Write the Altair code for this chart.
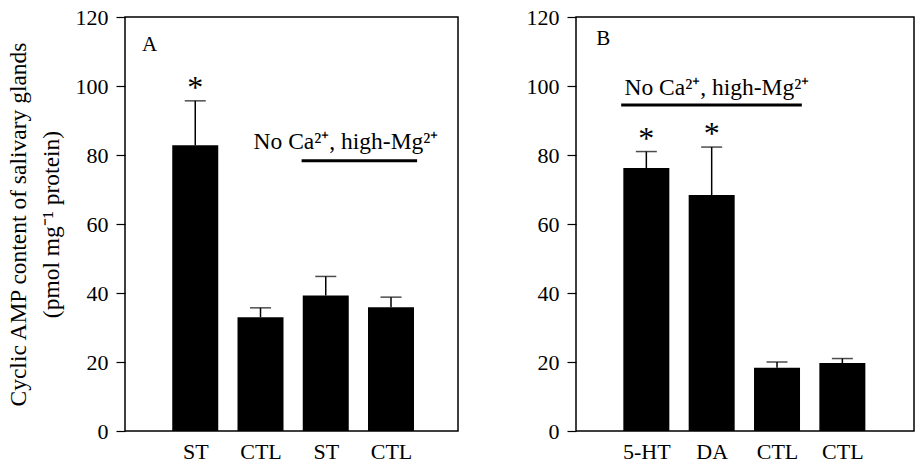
import altair as alt
import pandas as pd

FONT = "Liberation Serif"

positions = [1, 2, 3, 4]

a_labels = ["ST", "CTL", "ST", "CTL"]
a_means = [82.8, 33.0, 39.3, 35.9]
a_errs = [12.9, 2.7, 5.5, 2.9]
a_sig = ["*", "", "", ""]

b_labels = ["5-HT", "DA", "CTL", "CTL"]
b_means = [76.2, 68.4, 18.3, 19.7]
b_errs = [4.8, 13.9, 1.7, 1.3]
b_sig = ["*", "*", "", ""]

y_ticks = [0, 20, 40, 60, 80, 100, 120]
y_title = ["Cyclic AMP content of salivary glands", "(pmol mg\u207b\u00b9 protein)"]
ann_text = "No Ca\u00b2\u207a, high-Mg\u00b2\u207a"

# panel letter, annotation text position and bracket line (data coords)
a_letter = ("A", 0.30, 111.9)
b_letter = ("B", 0.34, 113.6)
a_ann = (3.31, 81.7)
b_ann = (2.08, 97.4)
a_line = (2.63, 4.40, 78.3)
b_line = (0.615, 3.38, 94.5)


def panel(labels, means, errs, sig, letter, ann, line, xmax, width, show_title):
    df = pd.DataFrame({"pos": positions, "label": labels, "mean": means,
                       "err": errs, "sig": sig})
    base = alt.Chart(df).transform_calculate(upper="datum.mean + datum.err")
    xs = alt.Scale(domain=[0, xmax], nice=False, zero=False)
    ys = alt.Scale(domain=[0, 120], nice=False)
    label_expr = "[" + ",".join(f"'{l}'" for l in labels) + "][datum.value - 1]"
    xaxis = alt.Axis(values=positions, labelExpr=label_expr, ticks=False,
                     domain=False, grid=False, title=None, labelFont=FONT,
                     labelFontSize=22, labelPadding=10, labelColor="black")
    yaxis_kw = dict(values=y_ticks, grid=False, domain=False, tickSize=9,
                    tickColor="black", tickWidth=1.2, labelFont=FONT,
                    labelFontSize=22, labelPadding=8, labelColor="black")
    if show_title:
        yaxis = alt.Axis(title=y_title, titleFont=FONT, titleFontSize=23.5,
                         titleFontWeight="normal", titleColor="black",
                         titlePadding=12, titleLineHeight=33, **yaxis_kw)
    else:
        yaxis = alt.Axis(title=None, **yaxis_kw)

    bars = base.mark_bar(size=46, color="black").encode(
        x=alt.X("pos:Q", scale=xs, axis=xaxis),
        y=alt.Y("mean:Q", scale=ys, axis=yaxis),
    )
    rule = base.mark_rule(strokeWidth=1.5, color="black").encode(
        x="pos:Q", y="mean:Q", y2="upper:Q")
    cap = base.mark_tick(size=21, thickness=1.5, color="black",
                         orient="horizontal").encode(x="pos:Q", y="upper:Q")
    star = base.transform_filter("datum.sig != ''").mark_text(
        font=FONT, fontSize=32, baseline="alphabetic", dy=-3, color="black"
    ).encode(x="pos:Q", y="upper:Q", text="sig:N")

    let_df = pd.DataFrame({"t": [letter[0]], "x": [letter[1]], "y": [letter[2]]})
    let_m = alt.Chart(let_df).mark_text(font=FONT, fontSize=21, baseline="middle",
                                        color="black").encode(
        x="x:Q", y="y:Q", text="t:N")
    ann_df = pd.DataFrame({"t": [ann_text], "x": [ann[0]], "y": [ann[1]]})
    ann_m = alt.Chart(ann_df).mark_text(font=FONT, fontSize=23.5, baseline="alphabetic",
                                        color="black").encode(
        x="x:Q", y="y:Q", text="t:N")
    line_df = pd.DataFrame({"x": [line[0]], "x2": [line[1]], "y": [line[2]]})
    line_m = alt.Chart(line_df).mark_rule(strokeWidth=3, color="black").encode(
        x="x:Q", x2="x2:Q", y="y:Q")

    return alt.layer(bars, rule, cap, star, let_m, ann_m, line_m).properties(
        width=width, height=414)


left = panel(a_labels, a_means, a_errs, a_sig, a_letter, a_ann, a_line, 4.95, 333, True)
right = panel(b_labels, b_means, b_errs, b_sig, b_letter, b_ann, b_line, 5.02, 338, False)

chart = alt.hconcat(left, right, spacing=66).properties(
    padding={"left": 5, "top": 5, "right": 0, "bottom": 0},
    background="white",
).configure_view(stroke="black", strokeWidth=1.5)

chart.save("out.html", embed_options={"renderer": "svg", "actions": False})
